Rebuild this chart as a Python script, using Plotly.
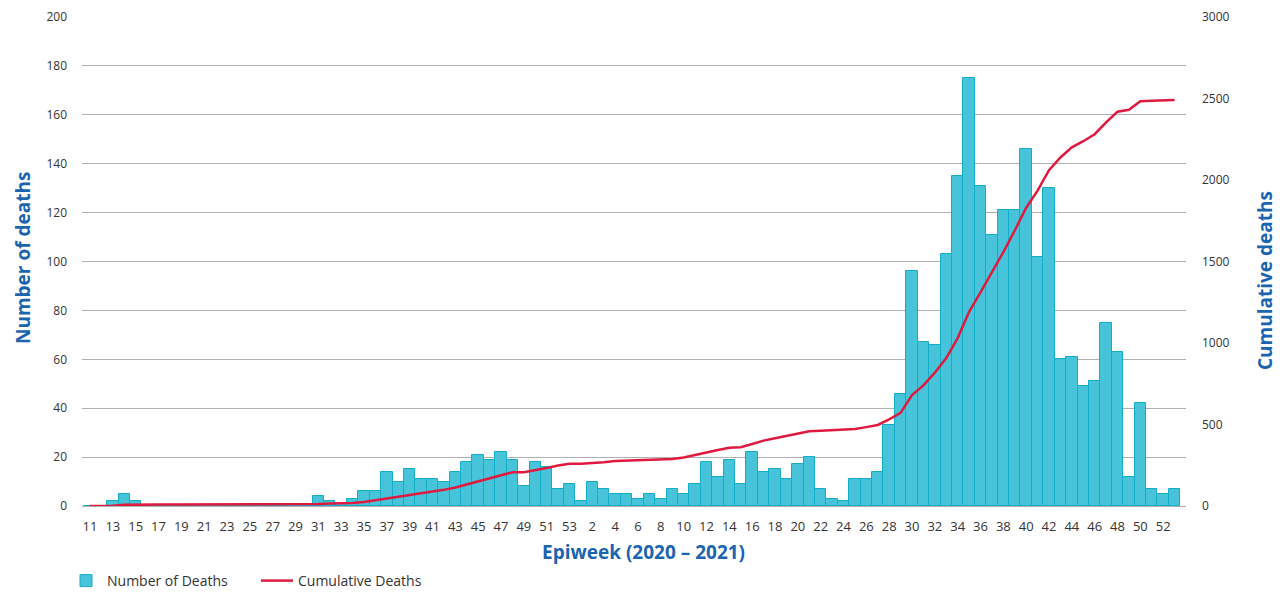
import plotly.graph_objects as go

# ---- data -------------------------------------------------------------
weeks_2020 = [str(w) for w in range(11, 54)]          # 2020 epiweeks 11..53
weeks_2021 = [str(w) for w in range(1, 54)]           # 2021 epiweeks 1..53
week_labels = weeks_2020 + weeks_2021

deaths_2020 = [0, 0, 2, 5, 2,
               0, 0, 0, 0, 0, 0, 0, 0, 0, 0, 0, 0, 0, 0, 0,
               4, 2, 1, 3, 6, 6, 14, 10, 15, 11, 11, 10, 14, 18, 21, 19, 22, 19, 8, 18, 16, 7, 9]
deaths_2021 = [2, 10, 7, 5, 5, 3, 5, 3, 7, 5, 9, 18, 12, 19, 9, 22, 14, 15, 11, 17, 20, 7, 3, 2,
               11, 11, 14, 33, 46, 96, 67, 66, 103, 135, 175, 131, 111, 121, 121, 146, 102, 130,
               60, 61, 49, 51, 75, 63, 12, 42, 7, 5, 7]
deaths = deaths_2020 + deaths_2021

cumulative_2020 = [0, 0, 2, 7, 9,
                   9, 9, 9, 9, 9, 9, 9, 9, 9, 9, 9, 9, 9, 9, 9,
                   13, 15, 16, 19, 25, 35, 46, 57, 67, 78, 89, 99, 114, 133, 152, 171, 189, 207,
                   207, 218, 233, 248, 259]
cumulative_2021 = [259, 262, 269, 276, 279, 282, 284, 286, 289, 298, 314, 331, 344, 357, 361, 380,
                   401, 416, 431, 445, 459, 462, 465, 468, 472, 484, 497, 531, 571, 680, 740, 818,
                   908, 1030, 1191, 1310, 1432, 1558, 1690, 1830, 1935, 2060, 2138, 2200, 2238,
                   2281, 2353, 2419, 2431, 2483, 2486, 2489, 2491]
cumulative = cumulative_2020 + cumulative_2021

left_ticks = list(range(0, 201, 20))
right_ticks = list(range(0, 3001, 500))

# ---- figure -----------------------------------------------------------
x = list(range(len(week_labels)))
FONT = "Open Sans"
BLUE = "#1B64B0"
TXT = "#333333"

# the page body has an 8px margin, so the figure is sized/placed to fill the
# window from (8, 8) to its bottom-right corner
W, H = 1274, 584
L, R, T, B = 74, 96, 9, 86
PW, PH = W - L - R, H - T - B


def px(xp):
    return (xp - L) / PW


def py(yp):
    return (H - B - yp) / PH


fig = go.Figure()
fig.add_trace(go.Bar(
    x=x, y=deaths, name="Number of Deaths", width=1,
    marker=dict(color="#48C4DA", line=dict(color="#13ADCA", width=1)),
))
fig.add_trace(go.Scatter(
    x=x, y=cumulative, name="Cumulative Deaths", yaxis="y2", mode="lines",
    line=dict(color="#E0193E", width=2.5),
))

fig.update_layout(
    width=W, height=H,
    margin=dict(l=L, r=R, t=T, b=B, autoexpand=False),
    paper_bgcolor="white", plot_bgcolor="white",
    bargap=0,
    font=dict(family=FONT, color=TXT),
    xaxis=dict(
        range=[-0.7, 96.0], showgrid=False, zeroline=False, automargin=False,
        tickmode="array", tickvals=x[::2], ticktext=week_labels[::2],
        tickfont=dict(size=13, color=TXT), ticks="", ticklabelstandoff=11,
    ),
    yaxis=dict(
        range=[0, 200], tickvals=left_ticks, showgrid=True, automargin=False,
        gridcolor="#B0B0B0", gridwidth=1,
        zeroline=True, zerolinecolor="#B0B0B0", zerolinewidth=1,
        tickfont=dict(size=12, color=TXT), ticks="", ticklabelstandoff=14,
    ),
    yaxis2=dict(
        range=[0, 3000], tickvals=right_ticks, overlaying="y", side="right",
        showgrid=False, zeroline=False, automargin=False,
        tickfont=dict(size=12, color=TXT), ticks="", ticklabelstandoff=15,
    ),
    legend=dict(
        orientation="h", x=px(57), xanchor="left", y=py(557), yanchor="top",
        font=dict(size=14, color=TXT), itemwidth=32, traceorder="normal",
        entrywidth=144, entrywidthmode="pixels",
    ),
    showlegend=True,
    annotations=[
        dict(text="<b>Epiweek (2020 – 2021)</b>", xref="paper", yref="paper",
             x=px(635), y=py(544), xanchor="center", yanchor="middle",
             showarrow=False, font=dict(size=19, color=BLUE, family=FONT)),
        dict(text="<b>Number of deaths</b>", xref="paper", yref="paper",
             x=px(0), y=py(250), xanchor="left", yanchor="middle",
             textangle=-90, showarrow=False, font=dict(size=19, color=BLUE, family=FONT)),
        dict(text="<b>Cumulative deaths</b>", xref="paper", yref="paper",
             x=px(1257), y=py(273), xanchor="center", yanchor="middle",
             textangle=-90, showarrow=False, font=dict(size=19, color=BLUE, family=FONT)),
    ],
)

fig.write_html("out.html")
